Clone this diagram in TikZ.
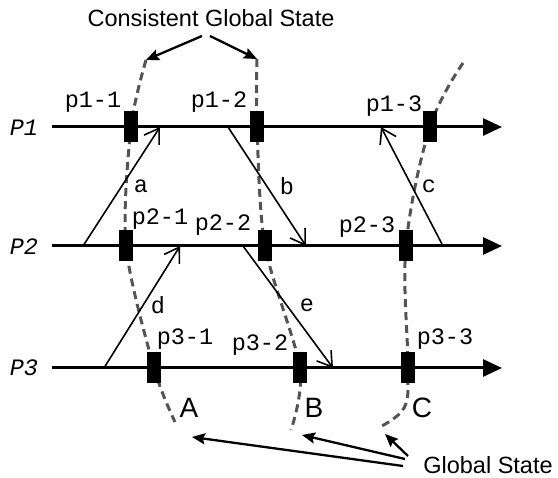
\documentclass[tikz,border=0pt]{standalone}
\usepackage{fontspec}
\setmainfont{Liberation Sans}
\setmonofont{Liberation Mono}
\usetikzlibrary{arrows.meta}

\begin{document}
\begin{tikzpicture}[x=1pt,y=-1pt,
    proc/.style={line width=3pt,-{Triangle[length=19pt,width=17pt]}},
    msg/.style={line width=1.6pt,-{Straight Barb[length=14pt,width=18pt]}},
    cut/.style={black!67,line width=3pt,dash pattern=on 8pt off 5pt},
    pointer/.style={line width=2.3pt,-{Stealth[length=13pt,width=11pt,inset=2pt]}},
    evbox/.style={fill=black,minimum width=14pt,minimum height=31pt,inner sep=0pt},
    mono/.style={font=\ttfamily\fontsize{23.5}{24}\selectfont,inner sep=0pt},
    pname/.style={font=\ttfamily\itshape\fontsize{23.5}{24}\selectfont,inner sep=0pt},
    note/.style={font=\fontsize{23.5}{26}\selectfont,inner sep=0pt},
    cutname/.style={font=\fontsize{28}{30}\selectfont,inner sep=0pt}]
    \useasboundingbox (0,0) rectangle (558,478);

    \node[pname] (P1) at (24,128) {P1};
    \node[pname] (P2) at (24,247) {P2};
    \node[pname] (P3) at (24,368) {P3};
    \coordinate (s1) at (52,127);  \coordinate (t1) at (502,127);
    \coordinate (s2) at (52,246);  \coordinate (t2) at (502,246);
    \coordinate (s3) at (52,368);  \coordinate (t3) at (502,368);

    \coordinate (b11) at (131,127); \coordinate (b12) at (257,127); \coordinate (b13) at (430,127);
    \coordinate (b21) at (126,246); \coordinate (b22) at (265,246); \coordinate (b23) at (406,246);
    \coordinate (b31) at (154,368); \coordinate (b32) at (300,368); \coordinate (b33) at (408,368);

    \coordinate (topA) at (146,60); \coordinate (endA) at (175,422);
    \coordinate (topB) at (257,59); \coordinate (endB) at (291,430);
    \coordinate (topC) at (463,63); \coordinate (endC) at (378,428);

    \draw[cut] plot[smooth,tension=0.5] coordinates {(topA) (b11) (b21) (b31) (endA)};
    \draw[cut] plot[smooth,tension=0.5] coordinates {(topB) (b12) (b22) (b32) (endB)};
    \draw[cut] plot[smooth,tension=0.6] coordinates {(topC) (b13) (b23) (b33) (404,408) (endC)};

    \draw[proc] (s1) -- (t1);
    \draw[proc] (s2) -- (t2);
    \draw[proc] (s3) -- (t3);

    \coordinate (a1) at (83,246);  \coordinate (a2) at (160,127);
    \coordinate (bb1) at (228,127); \coordinate (bb2) at (306,246);
    \coordinate (c1) at (443,246); \coordinate (c2) at (381,127);
    \coordinate (d1) at (104,368); \coordinate (d2) at (180,246);
    \coordinate (e1) at (243,246); \coordinate (e2) at (333,368);
    \draw[msg] (a1) -- (a2);
    \draw[msg] (bb1) -- (bb2);
    \draw[msg] (c1) -- (c2);
    \draw[msg] (d1) -- (d2);
    \draw[msg] (e1) -- (e2);
    \node[mono] (la) at (141,186) {a};
    \node[mono] (lb) at (287,186) {b};
    \node[mono] (lc) at (429,186) {c};
    \node[mono] (ld) at (158,305) {d};
    \node[mono] (le) at (307,305) {e};

    \foreach \ev in {b11,b12,b13,b21,b22,b23,b31,b32,b33}
        \node[evbox] (ev-\ev) at (\ev) {};

    \node[mono] (p11) at (93,102.5) {p1-1};
    \node[mono] (p12) at (219,102.5) {p1-2};
    \node[mono] (p13) at (394,106.5) {p1-3};
    \node[mono] (p21) at (160,219.5) {p2-1};
    \node[mono] (p22) at (223,225.5) {p2-2};
    \node[mono] (p23) at (367,227.5) {p2-3};
    \node[mono] (p31) at (185,339.5) {p3-1};
    \node[mono] (p32) at (260,345.5) {p3-2};
    \node[mono] (p33) at (445,339.5) {p3-3};

    \node[cutname] (A) at (189,408) {A};
    \node[cutname] (B) at (314,408) {B};
    \node[cutname] (C) at (422,408) {C};

    \node[note] (cgs) at (211,18) {Consistent Global State};
    \coordinate (cgsl) at (202,36); \coordinate (cgsr) at (210,36);
    \draw[pointer] (cgsl) -- (topA);
    \draw[pointer] (cgsr) -- (topB);

    \node[note] (gs) at (488,465) {Global State};
    \coordinate (gsA) at (403,466); \coordinate (gsB) at (405,459); \coordinate (gsC) at (408,456);
    \coordinate (tipA) at (192,437); \coordinate (tipB) at (302,435); \coordinate (tipC) at (385,434);
    \draw[pointer] (gsA) -- (tipA);
    \draw[pointer] (gsB) -- (tipB);
    \draw[pointer] (gsC) -- (tipC);
\end{tikzpicture}
\end{document}
